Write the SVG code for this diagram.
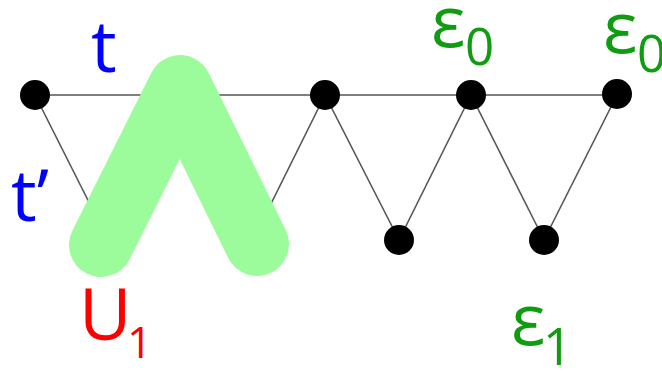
<svg xmlns="http://www.w3.org/2000/svg" width="662" height="372" viewBox="0 0 662 372">
<style>
.edge{stroke:#555;stroke-width:1.6;fill:none}
.dot{fill:#000}
.lbl{font-family:"Open Sans","Noto Sans","DejaVu Sans",sans-serif;font-size:72px}
.sub{font-size:51px}
.blue{fill:#0000ff}.red{fill:#ff0000}.green{fill:#109c10}
</style>
<rect width="662" height="372" fill="#fff"/>
<g id="connectors">
<line class="edge" x1="35" y1="95" x2="617" y2="95"/>
<line class="edge" x1="35" y1="95" x2="108" y2="240"/>
<line class="edge" x1="325" y1="95" x2="253" y2="240"/>
<line class="edge" x1="325" y1="95" x2="399" y2="240"/>
<line class="edge" x1="399" y1="240" x2="471" y2="95"/>
<line class="edge" x1="471" y1="95" x2="544" y2="240"/>
<line class="edge" x1="544" y1="240" x2="617" y2="95"/>
</g>
<g id="U1-region">
<polyline points="101,245 180,87 257,244" fill="none" stroke="#9cfc9c" stroke-width="64" stroke-linecap="round" stroke-linejoin="round"/>
</g>
<g id="n1"><circle class="dot" cx="35" cy="95" r="15"/></g>
<g id="n2"><circle class="dot" cx="325" cy="95" r="15"/></g>
<g id="n3"><circle class="dot" cx="471" cy="95" r="15"/></g>
<g id="n4"><circle class="dot" cx="617" cy="94" r="15"/></g>
<g id="n5"><circle class="dot" cx="399" cy="240" r="15"/></g>
<g id="n6"><circle class="dot" cx="544" cy="240" r="15"/></g>
<g id="labels">
<text class="lbl blue" x="91" y="72">t</text>
<text class="lbl blue" x="11" y="221">t’</text>
<text class="lbl red" x="79" y="340">U<tspan class="sub" style="font-size:44px" x="127" y="358">1</tspan></text>
<text class="lbl green" x="431" y="47">ε<tspan class="sub" x="465" y="65">0</tspan></text>
<text class="lbl green" x="603" y="53">ε<tspan class="sub" x="637" y="72">0</tspan></text>
<text class="lbl green" x="511" y="345">ε<tspan class="sub" x="543" y="365">1</tspan></text>
</g>
</svg>
